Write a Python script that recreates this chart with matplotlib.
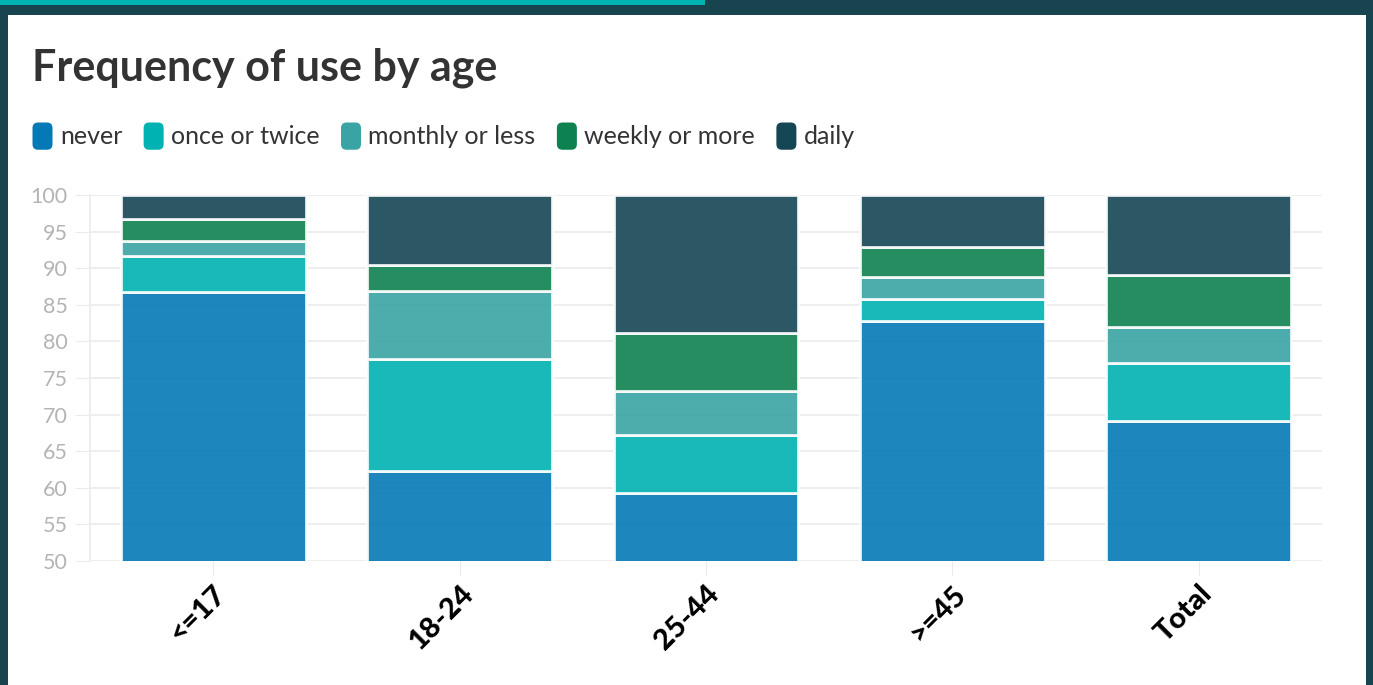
import matplotlib
matplotlib.use("Agg")
import matplotlib.pyplot as plt
import matplotlib.patches as patches
from matplotlib.legend_handler import HandlerPatch
import numpy as np

plt.rcParams['font.family'] = ['Lato', 'DejaVu Sans']

# data (percent)
groups = ['<=17', '18-24', '25-44', '>=45', 'Total']
series = ['never', 'once or twice', 'monthly or less', 'weekly or more', 'daily']
never = [86.7, 62.3, 59.3, 82.8, 69.1]
once_or_twice = [5.0, 15.3, 7.9, 3.0, 7.9]
monthly_or_less = [2.0, 9.3, 6.0, 3.0, 5.0]
weekly_or_more = [3.0, 3.5, 7.9, 4.1, 7.1]
daily = [3.3, 9.6, 18.9, 7.1, 10.9]
yticks = list(range(50, 101, 5))

colors = ['#0479b6', '#00b2b2', '#39a4a3', '#0e8150', '#154654']
frame = '#17444f'

fig = plt.figure(figsize=(13.73, 6.85), dpi=100, facecolor=frame)

# white card and teal strip at the top
fig.patches.append(patches.Rectangle((8 / 1373, 0), (1366 - 8) / 1373, 1 - 15 / 685,
                                     transform=fig.transFigure, facecolor='white',
                                     edgecolor='none', zorder=-10))
fig.patches.append(patches.Rectangle((0, 1 - 5 / 685), 705 / 1373, 5 / 685,
                                     transform=fig.transFigure, facecolor='#00b3b3',
                                     edgecolor='none', zorder=-10))

ax = fig.add_axes([90 / 1373, 1 - 561 / 685, (1322 - 90) / 1373, (561 - 195) / 685])
ax.set_facecolor('none')

x = np.arange(len(groups))
bottom = np.zeros(len(groups))
for name, vals, c in zip(series, [never, once_or_twice, monthly_or_less, weekly_or_more, daily], colors):
    ax.bar(x, vals, bottom=bottom, width=0.75, color=c, alpha=0.9,
           edgecolor='white', linewidth=2, zorder=3, label=name)
    bottom += np.array(vals)

ax.set_xlim(-0.5, len(groups) - 0.5)
ax.set_ylim(50, 100)
ax.set_yticks(yticks)
ax.set_xticks(x)
ax.set_xticklabels(groups, rotation=45, ha='right', rotation_mode='anchor',
                   fontsize=21, fontweight='black', color='black')
# shift the rotated labels so their ends sit just right of the tick
for lbl in ax.get_xticklabels():
    lbl.set_transform(lbl.get_transform() + matplotlib.transforms.ScaledTranslation(14 / 100, 0, fig.dpi_scale_trans))
ax.grid(axis='y', color='#ebebeb', linewidth=1.2, zorder=0)
for s in ['top', 'right', 'bottom']:
    ax.spines[s].set_visible(False)
ax.spines['left'].set_color('#ebebeb')
ax.spines['left'].set_linewidth(1.2)
ax.tick_params(axis='y', length=11, color='#ebebeb', labelcolor='#b4b4b4',
               labelsize=15.5, pad=5)
ax.tick_params(axis='x', length=10, color='#ebebeb', pad=4)


class RoundHandler(HandlerPatch):
    def create_artists(self, legend, orig_handle, xdescent, ydescent, width, height, fontsize, trans):
        p = patches.FancyBboxPatch((-xdescent + 2, -ydescent + 2), width - 4, height - 4,
                                   boxstyle='round,pad=2,rounding_size=4',
                                   facecolor=orig_handle.get_facecolor(), edgecolor='none',
                                   transform=trans)
        return [p]


handles = [patches.Patch(facecolor=c) for c in colors]
fig.legend(handles, series, loc='upper left', bbox_to_anchor=(10 / 1373, 1 - 100 / 685),
           ncol=5, frameon=False, fontsize=18, handlelength=0.8, handleheight=1.3,
           handletextpad=0.3, columnspacing=0.85, labelcolor='#333333',
           handler_map={patches.Patch: RoundHandler()})

fig.text(32 / 1373, 1 - 80 / 685, 'Frequency of use by age', fontsize=31,
         fontweight='bold', color='#333333', ha='left', va='baseline')

fig.savefig('out.png', dpi=100, facecolor=frame)
